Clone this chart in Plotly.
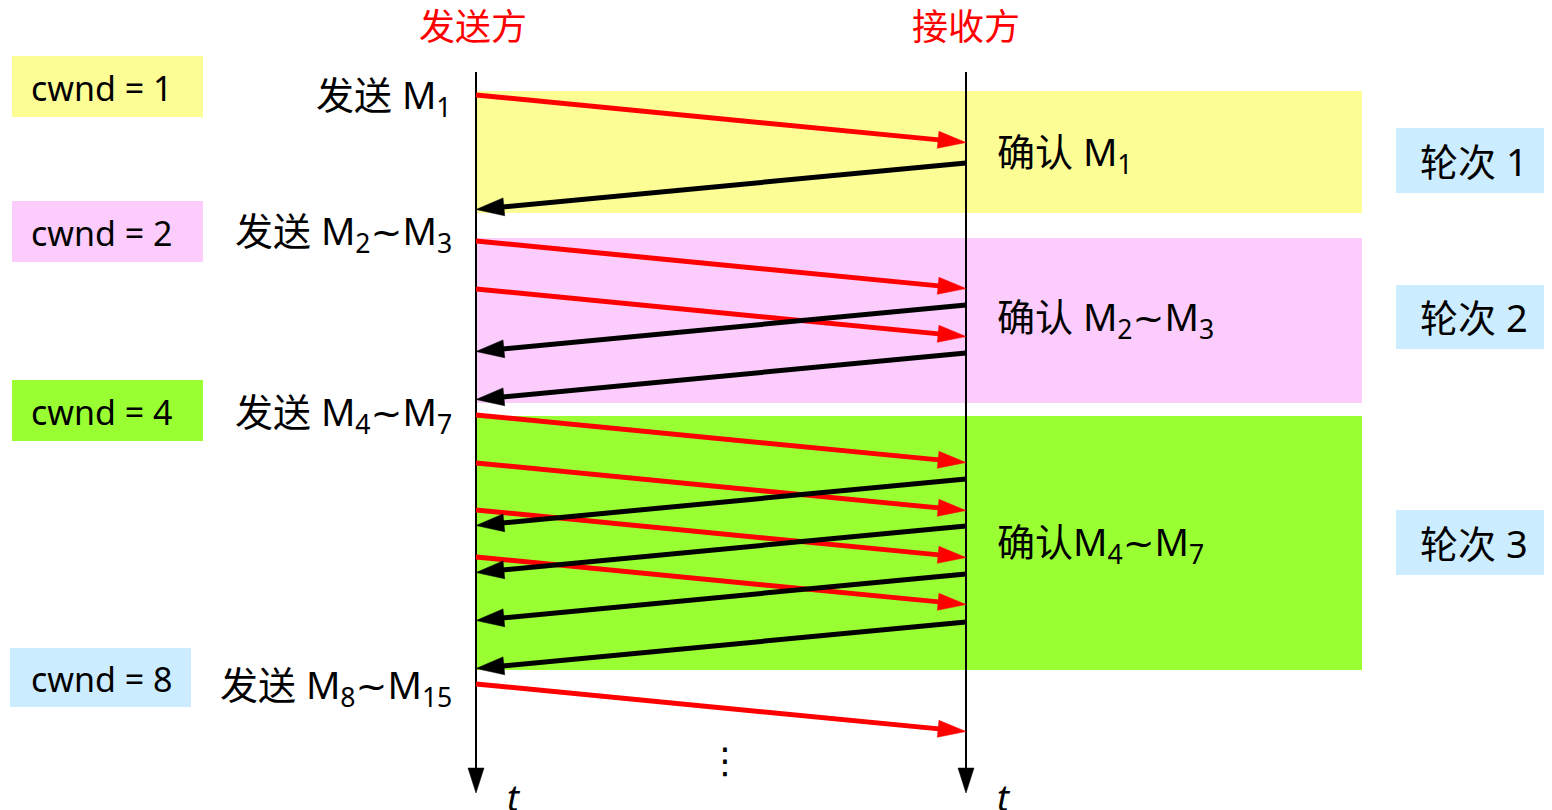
import numpy as np
import plotly.graph_objects as go

# ---------------- data ----------------
rounds = [1, 2, 3]
cwnd_values = [1, 2, 4, 8]
TILDE = '<span style="font-family:DejaVu Sans">~</span>'
send_labels = ["发送 M<sub>1</sub>", f"发送 M<sub>2</sub>{TILDE}M<sub>3</sub>",
               f"发送 M<sub>4</sub>{TILDE}M<sub>7</sub>", f"发送 M<sub>8</sub>{TILDE}M<sub>15</sub>"]
ack_labels = ["确认 M<sub>1</sub>", f"确认 M<sub>2</sub>{TILDE}M<sub>3</sub>",
              f"确认M<sub>4</sub>{TILDE}M<sub>7</sub>"]
round_labels = ["轮次 1", "轮次 2", "轮次 3"]
# time (downwards) at which each segment leaves the sender
seg_send_time = [95, 241, 289, 415, 463, 510, 557, 684]
# time at which each ACK leaves the receiver
ack_send_time = [163, 305, 353, 479, 526, 574, 622]
seg_transit = 47.5
ack_transit = 46.5

# ---------------- layout / style constants ----------------
W, H = 1552, 810
SENDER_X, RECEIVER_X = 476, 966
LINE_TOP, LINE_BOTTOM = 72, 793
BAND_RIGHT = 1362
BAND_Y = [(91, 213), (238, 403), (416, 670)]
CWND_BOX_X = [(12, 203), (12, 203), (12, 203), (10, 191)]
CWND_BOX_Y = [(56, 117), (201, 262), (380, 441), (648, 707)]
SEND_LABEL_Y = [96, 232, 413, 686]
ACK_LABEL_Y = [153, 318, 543]
ROUND_BOX_Y = [(128, 193), (285, 349), (510, 575)]
FONT = "Noto Sans, Noto Sans CJK SC, sans-serif"
band_colors = ["#FDFD96", "#FCCCFC", "#99FF33"]
cwnd_colors = ["#FDFD96", "#FCCCFC", "#99FF33", "#CCECFF"]
ROUND_BOX = "#CCECFF"
LABEL_SIZE = 38


def arrow_geom(x0, y0, x1, y1, head_len, head_w):
    p0 = np.array([x0, y0], float)
    p1 = np.array([x1, y1], float)
    u = (p1 - p0) / np.linalg.norm(p1 - p0)
    n = np.array([-u[1], u[0]])
    base = p1 - head_len * u
    line_end = p1 - 0.6 * head_len * u
    line = [(p0[0], p0[1]), (line_end[0], line_end[1])]
    head = [tuple(p1), tuple(base + n * head_w / 2), tuple(base - n * head_w / 2), tuple(p1)]
    return line, head


def arrow_traces(arrows, color, lw, head_len, head_w):
    lx, ly, hx, hy = [], [], [], []
    for (x0, y0, x1, y1) in arrows:
        line, head = arrow_geom(x0, y0, x1, y1, head_len, head_w)
        lx += [p[0] for p in line] + [None]
        ly += [p[1] for p in line] + [None]
        hx += [p[0] for p in head] + [None]
        hy += [p[1] for p in head] + [None]
    return [
        go.Scatter(x=lx, y=ly, mode="lines", line=dict(color=color, width=lw),
                   hoverinfo="skip", showlegend=False),
        go.Scatter(x=hx, y=hy, mode="lines", fill="toself", fillcolor=color,
                   line=dict(color=color, width=0.5), hoverinfo="skip", showlegend=False),
    ]


fig = go.Figure()
shapes = []
annotations = []

# round bands, ack labels, round boxes
for r in range(len(rounds)):
    top, bottom = BAND_Y[r]
    shapes.append(dict(type="rect", xref="x", yref="y", x0=SENDER_X, x1=BAND_RIGHT,
                       y0=top, y1=bottom, fillcolor=band_colors[r], line=dict(width=0),
                       layer="below"))
    annotations.append(dict(x=995, y=ACK_LABEL_Y[r], text=ack_labels[r], showarrow=False,
                            xanchor="left", yanchor="middle",
                            font=dict(family=FONT, size=LABEL_SIZE, color="black")))
    by0, by1 = ROUND_BOX_Y[r]
    shapes.append(dict(type="rect", xref="x", yref="y", x0=1396, x1=1544,
                       y0=by0, y1=by1, fillcolor=ROUND_BOX, line=dict(width=0),
                       layer="below"))
    annotations.append(dict(x=1418, y=(by0 + by1) / 2, text=round_labels[r], showarrow=False,
                            xanchor="left", yanchor="middle",
                            font=dict(family=FONT, size=LABEL_SIZE, color="black")))

# cwnd boxes and sender labels
for w in range(len(cwnd_values)):
    x0, x1 = CWND_BOX_X[w]
    y0, y1 = CWND_BOX_Y[w]
    shapes.append(dict(type="rect", xref="x", yref="y", x0=x0, x1=x1,
                       y0=y0, y1=y1, fillcolor=cwnd_colors[w],
                       line=dict(width=0), layer="below"))
    annotations.append(dict(x=29, y=(y0 + y1) / 2 + 1, text=f"cwnd = {cwnd_values[w]}",
                            showarrow=False, xanchor="left", yanchor="middle",
                            font=dict(family=FONT, size=34, color="black")))
    annotations.append(dict(x=454, y=SEND_LABEL_Y[w], text=send_labels[w], showarrow=False,
                            xanchor="right", yanchor="middle",
                            font=dict(family=FONT, size=LABEL_SIZE, color="black")))

# time lines
for tr in arrow_traces([(SENDER_X, LINE_TOP, SENDER_X, LINE_BOTTOM),
                        (RECEIVER_X, LINE_TOP, RECEIVER_X, LINE_BOTTOM)],
                       "black", 2, 25, 16):
    fig.add_trace(tr)

# data segments (red) and acks (black)
seg_arrows = [(SENDER_X, t, RECEIVER_X, t + seg_transit) for t in seg_send_time]
ack_arrows = [(RECEIVER_X, t, SENDER_X, t + ack_transit) for t in ack_send_time]
for tr in arrow_traces(seg_arrows, "#FF0000", 5, 28, 17):
    fig.add_trace(tr)
for tr in arrow_traces(ack_arrows, "black", 5, 28, 18):
    fig.add_trace(tr)

# titles
annotations.append(dict(x=SENDER_X - 3, y=26, text="发送方", showarrow=False,
                        font=dict(family=FONT, size=36, color="#FF0000")))
annotations.append(dict(x=RECEIVER_X, y=26, text="接收方", showarrow=False,
                        font=dict(family=FONT, size=36, color="#FF0000")))
# time labels
for x in (SENDER_X, RECEIVER_X):
    annotations.append(dict(x=x + 38, y=797, text="<i>t</i>", showarrow=False,
                            font=dict(family=FONT, size=36, color="black")))
# continuation dots
annotations.append(dict(x=725, y=760, text="⋮", showarrow=False,
                        font=dict(family="DejaVu Sans", size=36, color="black")))

fig.update_layout(
    width=W, height=H, margin=dict(l=0, r=0, t=0, b=0),
    plot_bgcolor="white", paper_bgcolor="white",
    xaxis=dict(range=[0, W], visible=False, fixedrange=True),
    yaxis=dict(range=[H, 0], visible=False, fixedrange=True),
    shapes=shapes, annotations=annotations, showlegend=False,
)

fig.write_html("out.html", config={"displayModeBar": False},
               post_script="document.body.style.margin='0';document.body.style.overflow='hidden';")
